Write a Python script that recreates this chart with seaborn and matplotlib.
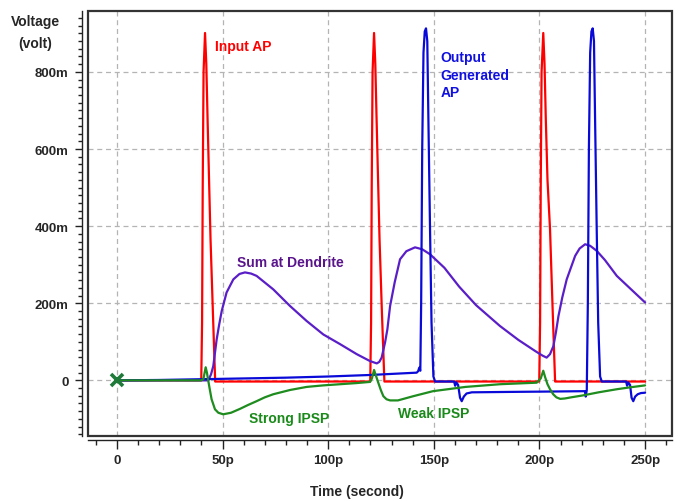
import matplotlib
matplotlib.use("Agg")
import matplotlib.pyplot as plt
import seaborn as sns
import pandas as pd
from matplotlib.ticker import MultipleLocator, FuncFormatter
from matplotlib.patches import Rectangle

# ---------------- data (time in ps, voltage in mV) ----------------
red_t = [0, 39.9, 40.3, 40.6, 41.0, 41.7, 42.3, 42.9, 43.6, 44.3, 45.4, 46.5,
         119.9, 120.3, 120.6, 121.0, 121.7, 122.3, 122.9, 123.6, 124.3, 125.4, 126.6,
         199.9, 200.3, 200.6, 201.0, 201.8, 202.4, 203.0, 203.8, 205.0, 206.2, 207.4, 250]
red_v = [0, 0, 150, 500, 800, 901, 820, 678, 520, 366, 180, -3,
         -3, 150, 500, 800, 901, 820, 678, 520, 366, 180, -3,
         -3, 150, 500, 800, 901, 820, 678, 520, 392, 190, -3, -3]

blue_t = [0, 20, 40, 60, 80, 100, 120,
          141.9, 142.6, 143.1, 143.6, 144.0, 144.5, 145.1, 145.7, 146.3, 146.9, 147.5, 148.2, 148.9, 149.8, 150.6,
          159.6, 160.1, 160.6, 161.5, 162.4, 163.2, 164.2, 165.5, 168.0, 185.0, 205.0,
          221.5, 221.9, 222.4, 222.9, 223.4, 224.0, 224.6, 225.2, 225.8, 226.4, 227.1, 227.8, 228.7, 229.5,
          241.0, 241.5, 242.0, 242.9, 243.6, 244.4, 245.3, 246.5, 248.0, 250.0]
blue_v = [0, 1, 3, 5, 7, 10, 14,
          20, 24, 33, 25, 200, 600, 850, 905, 913, 880, 650, 392, 150, 10, -3,
          -3, -14, -5, -12, -45, -54, -42, -34, -31, -30, -29,
          -28, -42, -25, 200, 600, 850, 905, 913, 880, 650, 392, 150, 10, -3,
          -3, -14, -5, -12, -45, -54, -42, -36, -33, -32]

purple_t = [0, 43.2, 44.5, 45.6, 47.2, 48.4, 49.6, 51.9, 55.1, 58.0, 60.6, 63.5, 66.1,
            74.0, 81.9, 89.8, 97.7, 105.6, 113.5, 119.8, 123.0, 124.2, 125.3, 126.9,
            128.0, 129.3, 131.5, 134.0, 137.0, 141.1, 144.5, 148.2, 155.0, 162.0,
            170.0, 181.3, 190.0, 198.0, 201.5, 203.4, 205.0, 206.6, 207.8, 209.0,
            210.8, 212.9, 216.9, 219.0, 221.6, 224.0, 227.1, 231.0, 236.6, 243.0, 250.0]
purple_v = [0, 0, 15, 37, 106, 145, 180, 228, 262, 276, 280, 277, 271,
            236, 193, 154, 119, 94, 68, 50, 44, 48, 59, 98,
            132, 193, 255, 314, 335, 345, 340, 327, 292, 243,
            195, 141, 105, 76, 64, 59, 68, 89, 125, 167,
            215, 262, 323, 342, 353, 349, 336, 312, 271, 238, 202]

green_t = [0, 20, 39.8, 40.9, 42.0, 42.6, 43.2, 44.0, 44.8, 46.4,
           48.0, 50.3, 54.0, 58.2, 62.0, 66.1, 70.0, 74.0, 81.9, 89.8,
           97.7, 105.6, 113.5, 119.8, 120.7, 121.7, 122.6, 123.7, 124.9, 126.1,
           127.6, 129.3, 133.0, 140.3, 149.6, 165.0, 181.3, 198.7, 200.6, 201.8,
           202.7, 203.8, 205.0, 206.5, 208.0, 209.8, 212.0, 215.0, 220.6, 228.0,
           236.6, 243.0, 250.0]
green_v = [0, 0, 0, 3, 34, 20, 0, -25, -49, -75,
           -84, -88, -84, -74, -64, -54, -44, -36, -25, -17,
           -13, -10, -7, -4, 5, 27, 12, -6, -25, -41,
           -49, -52, -52, -41, -28, -17, -10, -6, 5, 25,
           8, -10, -23, -36, -44, -48, -47, -44, -39, -31,
           -23, -18, -13]

x_major = [0, 50, 100, 150, 200, 250]
y_major = [0, 200, 400, 600, 800]

# ---------------- style ----------------
sns.set_style("white")
plt.rcParams['font.family'] = ['Liberation Sans', 'DejaVu Sans']
plt.rcParams['font.weight'] = 'bold'

W, H = 681, 502
fig = plt.figure(figsize=(W / 100, H / 100), dpi=100)
ax = fig.add_axes([88 / W, 1 - 436.5 / H, (671.5 - 88) / W, (436.5 - 12) / H])

series = [
    (red_t, red_v, '#ff0000', 2),
    (purple_t, purple_v, '#5a1ec8', 3),
    (blue_t, blue_v, '#0a0ad8', 4),
    (green_t, green_v, '#1e8c1e', 5),
]
for t, v, c, z in series:
    df = pd.DataFrame({'t': t, 'v': v})
    sns.lineplot(data=df, x='t', y='v', ax=ax, color=c, lw=1.6, sort=False,
                 estimator=None, zorder=z)

ax.plot([0], [0], marker='x', color='#1f7a3a', markersize=8, mew=2.6, zorder=6,
        linestyle='none')

ax.set_xlim(-13.7, 262.5)
ax.set_ylim(-143, 958)

ax.xaxis.set_major_locator(plt.FixedLocator(x_major))
ax.xaxis.set_minor_locator(MultipleLocator(10))
ax.yaxis.set_major_locator(plt.FixedLocator(y_major))
ax.yaxis.set_minor_locator(MultipleLocator(20))
ax.xaxis.set_major_formatter(FuncFormatter(lambda v, p: '0' if v == 0 else f'{int(v)}p'))
ax.yaxis.set_major_formatter(FuncFormatter(lambda v, p: '0' if v == 0 else f'{int(v)}m'))

ax.grid(True, which='major', color='#b4b4b4', linestyle=(0, (4, 3)), lw=0.9, zorder=0)
ax.set_axisbelow(True)

for s in ['top', 'right']:
    ax.spines[s].set_visible(False)
ax.spines['left'].set_position(('outward', 4))
ax.spines['bottom'].set_position(('outward', 3))
for s in ['left', 'bottom']:
    ax.spines[s].set_color('#222222')
    ax.spines[s].set_linewidth(1.0)
ax.add_patch(Rectangle((0, 0), 1, 1, transform=ax.transAxes, fill=False,
                       edgecolor='#333333', lw=1.6, clip_on=False, zorder=10))

ax.tick_params(axis='x', which='both', bottom=True, top=False)
ax.tick_params(axis='y', which='both', left=True, right=False)
ax.tick_params(axis='x', which='major', direction='out', length=6.5, width=1,
               color='#222222', pad=4, labelsize=9.5)
ax.tick_params(axis='x', which='minor', direction='out', length=3.6, width=1,
               color='#222222')
ax.tick_params(axis='y', which='major', direction='out', length=5, width=1,
               color='#222222', pad=5, labelsize=9.5)
ax.tick_params(axis='y', which='minor', direction='out', length=3, width=1,
               color='#222222')
for lab in ax.get_xticklabels() + ax.get_yticklabels():
    lab.set_fontweight('bold')

ax.set_xlabel('')
ax.set_ylabel('')

# ---------------- annotations ----------------
fs = 10
ax.text(46.4, 868, 'Input AP', color='#ff0000', fontsize=fs, fontweight='bold',
        ha='left', va='center')
ax.text(153.3, 838, 'Output', color='#1010e0', fontsize=fs, fontweight='bold',
        ha='left', va='center')
ax.text(153.3, 792, 'Generated', color='#1010e0', fontsize=fs, fontweight='bold',
        ha='left', va='center')
ax.text(153.3, 749, 'AP', color='#1010e0', fontsize=fs, fontweight='bold',
        ha='left', va='center')
ax.text(57.0, 306, 'Sum at Dendrite', color='#5a148c', fontsize=fs, fontweight='bold',
        ha='left', va='center')
ax.text(62.6, -97, 'Strong IPSP', color='#1a8a1a', fontsize=fs, fontweight='bold',
        ha='left', va='center')
ax.text(133.2, -84, 'Weak IPSP', color='#1a8a1a', fontsize=fs, fontweight='bold',
        ha='left', va='center')

fig.text(35 / W, 1 - 22 / H, 'Voltage', ha='center', va='center', fontsize=10,
         fontweight='bold')
fig.text(35 / W, 1 - 44 / H, '(volt)', ha='center', va='center', fontsize=10,
         fontweight='bold')
fig.text(357 / W, 1 - 492 / H, 'Time (second)', ha='center', va='center', fontsize=10,
         fontweight='bold')

fig.savefig('out.png', dpi=100, facecolor='white')
